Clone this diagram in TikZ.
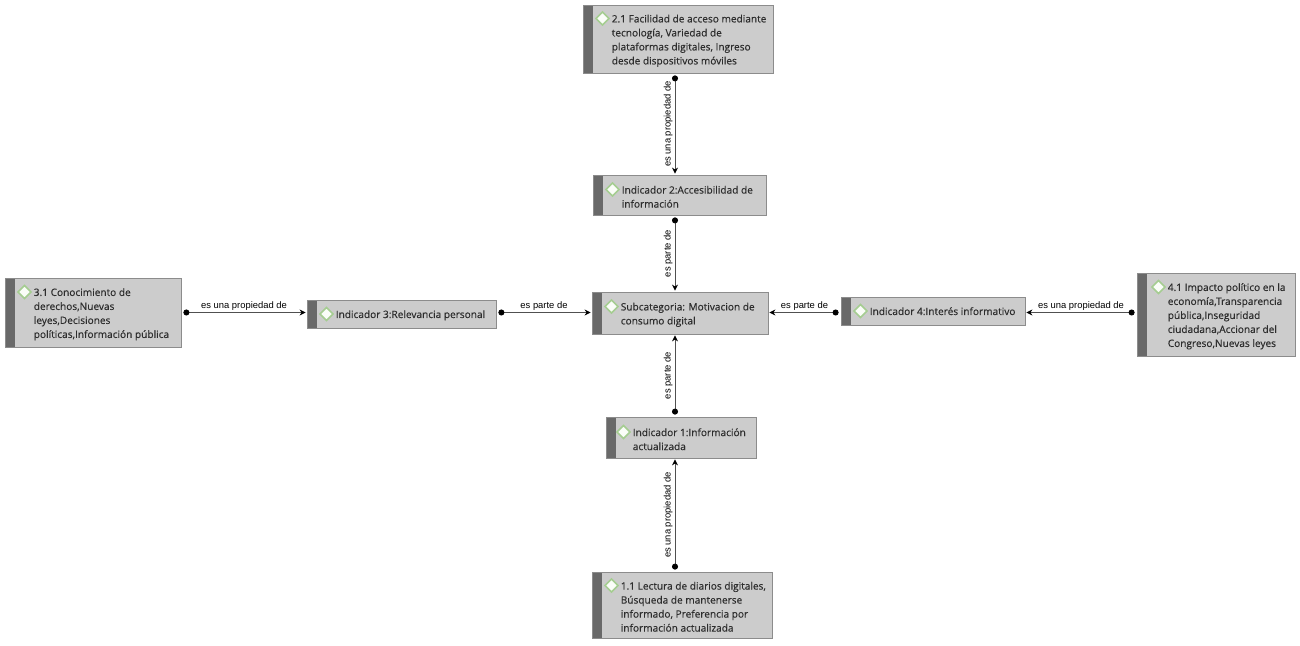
\documentclass[tikz,border=0pt]{standalone}
\usepackage{fontspec}
\setmainfont{Open Sans}[FakeBold=0.35]
\newfontfamily\etiqfont{Liberation Sans}
\usetikzlibrary{arrows.meta}

\definecolor{cajagris}{RGB}{204,204,204}
\definecolor{bordegris}{RGB}{140,140,140}
\definecolor{barragris}{RGB}{105,105,105}
\definecolor{textogris}{RGB}{45,45,45}
\definecolor{lineagris}{RGB}{80,80,80}
\definecolor{rombobord}{RGB}{165,205,145}
\definecolor{rombofill}{RGB}{250,253,248}

% rombo verde delante de la primera linea
\newcommand\rombo{\llap{\tikz[baseline=0pt,x=1pt,y=1pt,line width=1.6pt]\draw[rombobord,fill=rombofill] (0,4)--(6.5,10.5)--(13,4)--(6.5,-2.5)--cycle;\hspace{2pt}}}

\begin{document}
\begin{tikzpicture}[x=1pt,y=1pt,
  caja/.style={draw=bordegris,fill=cajagris,line width=0.8pt,inner sep=0pt,
    path picture={\fill[barragris] (path picture bounding box.north west) rectangle ([xshift=10pt]path picture bounding box.south west);}},
  texto/.style={anchor=west,align=left,inner sep=0pt,text=textogris,font=\fontsize{10.1}{14}\selectfont},
  rel/.style={draw=lineagris,line width=0.9pt,{Circle[length=6pt,black]}-{Stealth[length=6pt,width=6pt,black]},shorten <=2pt,shorten >=1pt},
  etiq/.style={font=\etiqfont\fontsize{9.4}{11}\selectfont,text=black,inner sep=2pt}]
  \useasboundingbox (0,0) rectangle (1300,645);

  % columna central
  \node[caja,minimum width=190pt,minimum height=68pt] (p21) at (678,606) {};
  \node[texto] (t21) at ([xshift=29pt]p21.west) {\rombo 2.1 Facilidad de acceso mediante\\tecnología, Variedad de\\plataformas digitales, Ingreso\\desde dispositivos móviles};

  \node[caja,minimum width=173pt,minimum height=40pt] (ind2) at (679.5,450) {};
  \node[texto] (tind2) at ([xshift=29pt]ind2.west) {\rombo Indicador 2:Accesibilidad de\\información};

  \node[caja,minimum width=176pt,minimum height=42pt] (sub) at (680,332) {};
  \node[texto] (tsub) at ([xshift=29pt]sub.west) {\rombo Subcategoria: Motivacion de\\consumo digital};

  \node[caja,minimum width=150pt,minimum height=41pt] (ind1) at (681,207.5) {};
  \node[texto] (tind1) at ([xshift=27pt]ind1.west) {\rombo Indicador 1:Información\\actualizada};

  \node[caja,minimum width=180pt,minimum height=66pt] (p11) at (682,40) {};
  \node[texto] (t11) at ([xshift=29pt]p11.west) {\rombo 1.1 Lectura de diarios digitales,\\Búsqueda de mantenerse\\informado, Preferencia por\\información actualizada};

  % fila horizontal
  \node[caja,minimum width=176pt,minimum height=69pt] (p31) at (93,332.5) {};
  \node[texto] (t31) at ([xshift=29pt]p31.west) {\rombo 3.1 Conocimiento de\\derechos,Nuevas\\leyes,Decisiones\\políticas,Información pública};

  \node[caja,minimum width=189pt,minimum height=28pt] (ind3) at (401.5,331) {};
  \node[texto] (tind3) at ([xshift=29pt]ind3.west) {\rombo Indicador 3:Relevancia personal};

  \node[caja,minimum width=184pt,minimum height=28pt] (ind4) at (933,334) {};
  \node[texto] (tind4) at ([xshift=29pt]ind4.west) {\rombo Indicador 4:Interés informativo};

  \node[caja,minimum width=158pt,minimum height=83pt] (p41) at (1216,330.5) {};
  \node[texto] (t41) at ([xshift=31pt]p41.west) {\rombo 4.1 Impacto político en la\\economía,Transparencia\\pública,Inseguridad\\ciudadana,Accionar del\\Congreso,Nuevas leyes};

  % ejes de las relaciones
  \coordinate (eje) at (675,332.5);

  \draw[rel] (p21.south -| eje) -- (ind2.north -| eje)
    node[etiq,midway,rotate=90,anchor=south] {es una propiedad de};
  \draw[rel] (ind2.south -| eje) -- (sub.north -| eje)
    node[etiq,midway,rotate=90,anchor=south] {es parte de};
  \draw[rel] (ind1.north -| eje) -- (sub.south -| eje)
    node[etiq,midway,rotate=90,anchor=south] {es parte de};
  \draw[rel] (p11.north -| eje) -- (ind1.south -| eje)
    node[etiq,midway,rotate=90,anchor=south] {es una propiedad de};

  \draw[rel] (p31.east |- eje) -- (ind3.west |- eje)
    node[etiq,midway,above] {es una propiedad de};
  \draw[rel] (ind3.east |- eje) -- (sub.west |- eje)
    node[etiq,midway,above] {es parte de};
  \draw[rel] (ind4.west |- eje) -- (sub.east |- eje)
    node[etiq,midway,above] {es parte de};
  \draw[rel] (p41.west |- eje) -- (ind4.east |- eje)
    node[etiq,midway,above] {es una propiedad de};
\end{tikzpicture}
\end{document}
